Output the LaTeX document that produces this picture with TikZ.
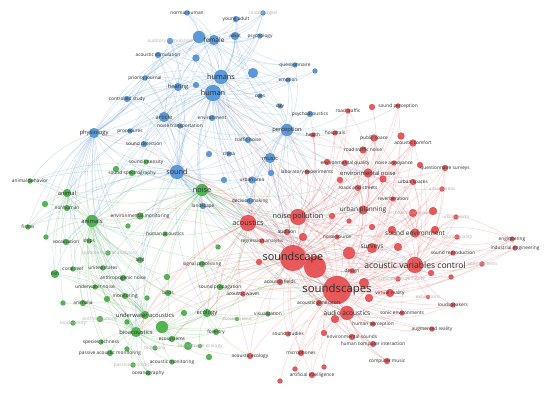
\documentclass[tikz,border=0pt]{standalone}
\usepackage{fontspec}
\usepackage{tikz}
\usetikzlibrary{backgrounds}
\newfontfamily\vosfont{Open Sans}
\definecolor{vblue}{HTML}{4A8FD6}
\definecolor{vgreen}{HTML}{3FAE3F}
\definecolor{vred}{HTML}{E5484A}
\definecolor{ink}{HTML}{2B2B2B}
\definecolor{faint}{HTML}{B4B4B4}
\tikzset{
  dot/.style={circle, inner sep=0pt, fill=#1, draw=#1!80!black,
    line width=0.15pt, fill opacity=0.9, draw opacity=0.6},
  bluekw/.style={dot=vblue},
  greenkw/.style={dot=vgreen},
  redkw/.style={dot=vred},
  sz/.style={minimum size={2*#1pt}},
  lbl/.style={inner sep=0pt, text=ink, font=\vosfont\fontsize{#1}{#1}\selectfont},
  kwxs/.style={label={[lbl=4.8]center:#1}},
  kwfaint/.style={label={[lbl=4.8, text=faint]center:#1}},
  kws/.style={label={[lbl=5.8]center:#1}},
  kwm/.style={label={[lbl=6.5]center:#1}},
  kwl/.style={label={[lbl=7.3]center:#1}},
  kwxl/.style={label={[lbl=8.6]center:#1}},
  kwxxl/.style={label={[lbl=10.8]center:#1}},
  kwhuge/.style={label={[lbl=11.4]center:#1}},
  bluelink/.style={draw=vblue!75, line width=0.4pt, draw opacity=0.38},
  greenlink/.style={draw=vgreen!75, line width=0.4pt, draw opacity=0.38},
  redlink/.style={draw=vred!80, line width=0.4pt, draw opacity=0.32},
}

\begin{document}
\begin{tikzpicture}[x=1pt, y=-1pt]
  \useasboundingbox (0,0) rectangle (550,395);

  % blue cluster
  \node[bluekw, sz=2.5, kwxs=normal human] (normalhuman) at (187,13) {};
  \node[bluekw, sz=3, kwxs=young adult] (youngadult) at (236,19) {};
  \node[bluekw, sz=2.5, kwfaint=middle aged] (middleaged) at (263,13) {};
  \node[bluekw, sz=3, kwfaint=auditory stimulation] (auditorystim) at (170,41) {};
  \node[bluekw, sz=6] (bu1) at (199,37) {};
  \node[bluekw, sz=5, kwm=female] (female) at (214,40) {};
  \node[bluekw, sz=4, kwxs=adult] (adult) at (235,36) {};
  \node[bluekw, sz=2.5, kwxs=psychology] (psychology) at (260,36) {};
  \node[bluekw, sz=3, kwxs=acoustic stimulation] (acousticstim) at (158,55) {};
  \node[bluekw, sz=3.5] (bu2) at (196,58) {};
  \node[bluekw, sz=2.5, kwxs=questionnaire] (questionnaire) at (295,65) {};
  \node[bluekw, sz=2.5] (bu8) at (315,71) {};
  \node[bluekw, sz=5] (bu3) at (253,73) {};
  \node[bluekw, sz=7, kwl=humans] (humans) at (221,77) {};
  \node[bluekw, sz=2.5, kwxs=priority journal] (priority) at (145,78) {};
  \node[bluekw, sz=4, kws=hearing] (hearing) at (178,87) {};
  \node[bluekw, sz=3] (bu4) at (196,85) {};
  \node[bluekw, sz=2.5, kwxs=emotion] (emotion) at (288,80) {};
  \node[bluekw, sz=8, kwl=human] (human) at (213,93) {};
  \node[bluekw, sz=2.5, kwxs=cues] (cues) at (260,96) {};
  \node[bluekw, sz=3, kwxs=controlled study] (controlled) at (127,99) {};
  \node[bluekw, sz=2.5, kwxs=day] (day) at (280,106) {};
  \node[bluekw, sz=5, kws=article] (article) at (164,117) {};
  \node[bluekw, sz=3, kwxs=environment] (environment) at (212,118) {};
  \node[bluekw, sz=2.5, kwxs=noise transportation] (noisetrans) at (180,126) {};
  \node[bluekw, sz=5, kws=physiology] (physiology) at (94,133) {};
  \node[bluekw, sz=2.5, kwxs=procedures] (procedures) at (130,131) {};
  \node[bluekw, sz=3, kwxs=traffic noise] (trafficnoise) at (248,140) {};
  \node[bluekw, sz=3, kwxs=psychoacoustics] (psychoac) at (310,114) {};
  \node[bluekw, sz=6, kws=perception] (perception) at (287,130) {};
  \node[bluekw, sz=3, kwxs=sound detection] (sounddetect) at (144,144) {};
  \node[bluekw, sz=3] (bu5) at (209,154) {};
  \node[bluekw, sz=2.5, kwxs=china] (china) at (229,154) {};
  \node[bluekw, sz=7, kwl=sound] (sound) at (177,172) {};
  \node[bluekw, sz=5, kws=music] (music) at (270,158) {};
  \node[bluekw, sz=3] (bu7) at (271,173) {};
  \node[bluekw, sz=3] (bu6) at (224,180) {};
  \node[bluekw, sz=3.5, kwxs=urban area] (urbanarea) at (252,180) {};
  \node[bluekw, sz=3, kwxs=landscape] (landscape) at (203,206) {};
  \node[bluekw, sz=3, kwxs=decision making] (decision) at (250,201) {};

  % green cluster
  \node[greenkw, sz=2.5, kwxs=animal behavior] (animalbehavior) at (30,181) {};
  \node[greenkw, sz=4, kws=animal] (animal) at (67,193) {};
  \node[greenkw, sz=3] (gu1) at (45,204) {};
  \node[greenkw, sz=3, kwxs=nonhuman] (nonhuman) at (67,208) {};
  \node[greenkw, sz=6, kws=animals] (animals) at (92,221) {};
  \node[greenkw, sz=3.5, kwxs=environmental monitoring] (envmonitor) at (140,216) {};
  \node[greenkw, sz=2.5] (gu3) at (128,226) {};
  \node[greenkw, sz=2.5, kwxs=fishes] (fishes) at (28,227) {};
  \node[greenkw, sz=2.5, kwxs=human acoustics] (humanacoustics) at (165,234) {};
  \node[greenkw, sz=2.5] (gu2) at (46,237) {};
  \node[greenkw, sz=3, kwxs=vocalization] (vocalization) at (66,242) {};
  \node[greenkw, sz=2.5, kwxs=ships] (ships) at (89,241) {};
  \node[greenkw, sz=2.5, kwfaint=spatiotemporal analysis] (spatiotemp) at (108,253) {};
  \node[greenkw, sz=3, kwxs=bird] (bird) at (140,260) {};
  \node[greenkw, sz=4, kwxs=fish] (fish) at (55,274) {};
  \node[greenkw, sz=2.5, kwxs=coral reef] (coralreef) at (73,269) {};
  \node[greenkw, sz=2.5, kwxs=united states] (unitedstates) at (103,268) {};
  \node[greenkw, sz=3, kwxs=anthropogenic noise] (anthropogenic) at (123,278) {};
  \node[greenkw, sz=3] (gu4) at (167,277) {};
  \node[greenkw, sz=2.5, kwxs=sound intensity] (soundintensity) at (146,162) {};
  \node[greenkw, sz=3] (gu15) at (116,169) {};
  \node[greenkw, sz=3, kwxs=sound spectrography] (soundspectro) at (132,173) {};
  \node[greenkw, sz=6, kwl=noise] (noise) at (202,190) {};
  \node[greenkw, sz=2.5] (gu5) at (218,247) {};
  \node[greenkw, sz=3, kwxs=signal processing] (signalproc) at (202,264) {};
  \node[greenkw, sz=3, kwxs=sound propagation] (soundprop) at (220,287) {};
  \node[greenkw, sz=3, kwxs=birds] (birds) at (168,293) {};
  \node[greenkw, sz=2.5, kwxs=underwater noise] (underwaternoise) at (95,287) {};
  \node[greenkw, sz=3, kwxs=monitoring] (monitoring) at (125,296) {};
  \node[greenkw, sz=3] (gu6) at (107,299) {};
  \node[greenkw, sz=2.5] (gu7) at (147,298) {};
  \node[greenkw, sz=2.5] (gu8) at (63,303) {};
  \node[greenkw, sz=3, kwxs=animalia] (animalia) at (83,303) {};
  \node[greenkw, sz=4, kws=underwater acoustics] (underwateracoustics) at (145,315) {};
  \node[greenkw, sz=3] (gu9) at (184,313) {};
  \node[greenkw, sz=4, kws=ecology] (ecology) at (207,313) {};
  \node[greenkw, sz=2.5, kwxs=visualization] (visualization) at (268,314) {};
  \node[greenkw, sz=2, kwfaint=acoustic data] (acousticdata) at (237,319) {};
  \node[greenkw, sz=3, kwfaint=anthropophony] (anthropophony) at (100,319) {};
  \node[greenkw, sz=2.5, kwfaint=biodiversity] (biodiversity) at (73,323) {};
  \node[greenkw, sz=2.5] (gu11) at (127,322) {};
  \node[greenkw, sz=6] (gu10) at (162,327) {};
  \node[greenkw, sz=5, kws=bioacoustics] (bioacoustics) at (136,332) {};
  \node[greenkw, sz=3, kwxs=forestry] (forestry) at (216,332) {};
  \node[greenkw, sz=2.5, kwxs=species richness] (speciesrichness) at (101,342) {};
  \node[greenkw, sz=3, kwxs=ecosystems] (ecosystems) at (172,339) {};
  \node[greenkw, sz=4] (gu13) at (188,346) {};
  \node[greenkw, sz=2, kwfaint=soundscape ecology] (soundscapeecology) at (200,346) {};
  \node[greenkw, sz=2.5] (gu12) at (127,349) {};
  \node[greenkw, sz=2.5, kwfaint=biophony] (biophony) at (155,348) {};
  \node[greenkw, sz=3, kwxs=passive acoustic monitoring] (pam) at (110,353) {};
  \node[greenkw, sz=3] (gu14) at (209,357) {};
  \node[greenkw, sz=2.5, kwxs=acoustic monitoring] (acousticmonitoring) at (172,362) {};
  \node[greenkw, sz=2.5, kwfaint=passive acoustics] (passiveacoustics) at (133,365) {};
  \node[greenkw, sz=2.5, kwxs=oceanography] (oceanography) at (148,373) {};

  % red cluster
  \node[redkw, sz=2.5, kwxs=road traffic] (roadtraffic) at (348,111) {};
  \node[redkw, sz=3] (ru3) at (372,107) {};
  \node[redkw, sz=2.5, kwxs=sound perception] (soundperception) at (398,106) {};
  \node[redkw, sz=2.5, kwxs=health] (health) at (313,135) {};
  \node[redkw, sz=2.5, kwxs=hospitals] (hospitals) at (335,133) {};
  \node[redkw, sz=3.5, kwxs=public space] (publicspace) at (374,138) {};
  \node[redkw, sz=3.5] (ru4) at (401,136) {};
  \node[redkw, sz=3.5, kwxs=acoustic comfort] (acousticcomfort) at (413,143) {};
  \node[redkw, sz=3.5, kwxs=road traffic noise] (roadtrafficnoise) at (363,150) {};
  \node[redkw, sz=3] (ru6) at (327,162) {};
  \node[redkw, sz=3, kwxs=environmental quality] (envquality) at (345,163) {};
  \node[redkw, sz=2.5, kwxs=noise annoyance] (noiseannoyance) at (394,163) {};
  \node[redkw, sz=3] (ru5) at (420,165) {};
  \node[redkw, sz=3, kwxs=questionnaire surveys] (questionnairesurveys) at (445,168) {};
  \node[redkw, sz=2.5, kwxs=laboratory experiments] (labexp) at (307,172) {};
  \node[redkw, sz=4.5, kws=environmental noise] (envnoise) at (368,173) {};
  \node[redkw, sz=3] (ru25) at (340,180) {};
  \node[redkw, sz=3.5] (ru7) at (383,179) {};
  \node[redkw, sz=3, kwxs=urban spaces] (urbanspaces) at (413,182) {};
  \node[redkw, sz=3, kwxs=roads and streets] (roadsstreets) at (358,188) {};
  \node[redkw, sz=2.5, kwfaint=urban areas] (urbanareas) at (442,189) {};
  \node[redkw, sz=2.5, kwxs=reverberation] (reverberation) at (393,199) {};
  \node[redkw, sz=4.5, kwm=urban planning] (urbanplanning) at (363,210) {};
  \node[redkw, sz=4, kwfaint=architectural acoustics] (archacoustics) at (413,213) {};
  \node[redkw, sz=4] (ru8) at (433,211) {};
  \node[redkw, sz=2.5, kwfaint=urban parks] (urbanparks) at (456,217) {};
  \node[redkw, sz=3] (ru22) at (332,216) {};
  \node[redkw, sz=2.5] (ru23) at (349,221) {};
  \node[redkw, sz=3] (ru24) at (372,227) {};
  \node[redkw, sz=8, kwl=noise pollution] (noisepollution) at (298,217) {};
  \node[redkw, sz=8, kwl=acoustics] (acoustics) at (248,223) {};
  \node[redkw, sz=3, kwxs=audition] (audition) at (287,232) {};
  \node[redkw, sz=4] (ru21) at (303,237) {};
  \node[redkw, sz=2.5, kwxs=noise source] (noisesource) at (337,237) {};
  \node[redkw, sz=2.5, kwxs=regression analysis] (regression) at (262,241) {};
  \node[redkw, sz=4] (ru9) at (392,230) {};
  \node[redkw, sz=4] (ru10) at (435,230) {};
  \node[redkw, sz=4.5, kwm=sound environment] (soundenv) at (415,233) {};
  \node[redkw, sz=2.5, kwfaint=sound quality] (soundquality) at (457,237) {};
  \node[redkw, sz=2.5, kwxs=engineering] (engineering) at (512,239) {};
  \node[redkw, sz=2.5, kwxs=industrial engineering] (industrialeng) at (515,248) {};
  \node[redkw, sz=6] (ru2) at (349,253) {};
  \node[redkw, sz=4] (ru11) at (398,247) {};
  \node[redkw, sz=5, kwm=surveys] (surveys) at (372,248) {};
  \node[redkw, sz=3] (ru20) at (259,262) {};
  \node[redkw, sz=11] (ru1) at (315,267) {};
  \node[redkw, sz=13, kwxxl=soundscape] (soundscape) at (293,258) {};
  \node[redkw, sz=2.5, kwxs=sound reproduction] (soundrepro) at (453,253) {};
  \node[redkw, sz=8, kwxl=acoustic variables control] (avc) at (415,265) {};
  \node[redkw, sz=2.5, kwfaint=listening tests] (listening) at (482,264) {};
  \node[redkw, sz=3] (ru12) at (431,273) {};
  \node[redkw, sz=2.5] (ru13) at (451,277) {};
  \node[redkw, sz=2.5, kwxs=design] (design) at (352,271) {};
  \node[redkw, sz=2.5, kwfaint=acoustic measurements] (acousticmeas) at (398,279) {};
  \node[redkw, sz=5] (ru14) at (364,283) {};
  \node[redkw, sz=3, kwxs=acoustic fields] (acousticfields) at (280,282) {};
  \node[redkw, sz=4] (ru15) at (369,298) {};
  \node[redkw, sz=14, kwhuge=soundscapes] (soundscapes) at (337,290) {};
  \node[redkw, sz=4, kwxs=virtual reality] (virtualreality) at (390,293) {};
  \node[redkw, sz=2, kwfaint=exhibitions] (exhibitions) at (428,297) {};
  \node[redkw, sz=2.5, kwxs=loudspeakers] (loudspeakers) at (453,305) {};
  \node[redkw, sz=2.5, kwxs=acoustic waves] (acousticwaves) at (243,294) {};
  \node[redkw, sz=3, kwxs=acoustic generators] (acousticgen) at (319,303) {};
  \node[redkw, sz=4] (ru16) at (335,319) {};
  \node[redkw, sz=7, kwm=audio acoustics] (audioacoustics) at (347,313) {};
  \node[redkw, sz=2.5, kwxs=sonic environments] (sonicenv) at (402,313) {};
  \node[redkw, sz=2.5, kwxs=human perception] (humanperception) at (373,324) {};
  \node[redkw, sz=2.5, kwxs=augmented reality] (augmented) at (432,329) {};
  \node[redkw, sz=3] (ru17) at (324,333) {};
  \node[redkw, sz=2.5, kwxs=sound studies] (soundstudies) at (288,334) {};
  \node[redkw, sz=3, kwxs=environmental sounds] (envsounds) at (352,337) {};
  \node[redkw, sz=3, kwxs=human computer interaction] (hci) at (373,344) {};
  \node[redkw, sz=3, kwxs=acoustic ecology] (acousticecology) at (250,356) {};
  \node[redkw, sz=3, kwxs=microphones] (microphones) at (301,353) {};
  \node[redkw, sz=3, kwxs=computer music] (computermusic) at (387,361) {};
  \node[redkw, sz=2.5] (ru18) at (295,369) {};
  \node[redkw, sz=2.5] (ru19) at (324,367) {};
  \node[redkw, sz=3, kwxs=artificial intelligence] (ai) at (312,375) {};
  \node[redkw, sz=2.5] (ru26) at (280,381) {};

  \begin{scope}[on background layer]
    \fill[white] (0,0) rectangle (550,395);
    % blue links
    \foreach \dst in {normalhuman, youngadult, middleaged, auditorystim, female, adult, psychology, acousticstim, questionnaire, humans, priority, hearing, emotion, cues, controlled, day, article, environment, noisetrans, physiology, procedures, trafficnoise, psychoac, perception, sounddetect, china, sound, music, urbanarea, landscape, decision, bu1, bu2, bu3, bu4, bu5, bu8, animals, noise, animal, soundintensity, soundspectro, noisepollution, acoustics, envnoise, roadtrafficnoise, health, labexp, soundscape, soundscapes, urbanplanning, surveys, avc, bioacoustics}
      \draw[bluelink] (human) to[bend right=16] (\dst);
    \foreach \dst in {normalhuman, youngadult, middleaged, auditorystim, female, adult, psychology, acousticstim, questionnaire, priority, hearing, emotion, cues, controlled, day, article, physiology, procedures, perception, sound, music, bu1, bu2, bu3, bu4, bu8, animals, noise, soundscape, acoustics, noisepollution, envnoise}
      \draw[bluelink] (humans) to[bend right=16] (\dst);
    \foreach \dst in {normalhuman, youngadult, middleaged, adult, psychology, acousticstim, questionnaire, priority, hearing, controlled, article, physiology, perception, sound, emotion, bu1, bu3}
      \draw[bluelink] (female) to[bend right=16] (\dst);
    \foreach \dst in {normalhuman, youngadult, middleaged, adult, psychology, priority, hearing, controlled, article, physiology, questionnaire}
      \draw[bluelink] (bu1) to[bend right=16] (\dst);
    \foreach \dst in {youngadult, middleaged, psychology, questionnaire, emotion, perception, cues, day}
      \draw[bluelink] (adult) to[bend right=16] (\dst);
    \foreach \dst in {physiology, article, hearing, priority, controlled, procedures, sounddetect, acousticstim, auditorystim, perception, music, china, urbanarea, landscape, decision, noisetrans, environment, soundintensity, soundspectro, animals, animal, noise, nonhuman, vocalization, bird, acoustics, noisepollution, soundscape, soundscapes, audition, bu5, bu6, bu7, bioacoustics, underwateracoustics, ecology, avc, audioacoustics, fishes, animalbehavior}
      \draw[bluelink] (sound) to[bend right=16] (\dst);
    \foreach \dst in {article, priority, controlled, procedures, sounddetect, hearing, acousticstim, auditorystim, soundintensity, soundspectro, animal, animals, nonhuman, animalbehavior, fishes, vocalization, fish, noise, bioacoustics, underwateracoustics, birds, bird, unitedstates, coralreef, gu8, monitoring, animalia, gu1, gu2}
      \draw[bluelink] (physiology) to[bend right=16] (\dst);
    \foreach \dst in {priority, controlled, procedures, environment, noisetrans, sounddetect, hearing, acousticstim, perception, noise, china, trafficnoise, animals, animal, soundscape}
      \draw[bluelink] (article) to[bend right=16] (\dst);
    \foreach \dst in {psychoac, emotion, cues, day, questionnaire, music, trafficnoise, urbanarea, health, hospitals, roadtraffic, labexp, envnoise, soundperception, noisepollution, soundscape, soundscapes, acoustics, bu3, bu7, decision, urbanplanning, avc}
      \draw[bluelink] (perception) to[bend right=16] (\dst);
    \foreach \dst in {priority, controlled, acousticstim, auditorystim, procedures, sounddetect, bu2, bu4, physiology}
      \draw[bluelink] (hearing) to[bend right=16] (\dst);
    \foreach \dst in {soundscape, acoustics, emotion, psychoac, urbanarea, bu7, soundscapes, audioacoustics}
      \draw[bluelink] (music) to[bend right=16] (\dst);
    % green links
    \foreach \dst in {animalbehavior, animal, nonhuman, fishes, vocalization, ships, spatiotemp, bird, fish, coralreef, unitedstates, anthropogenic, envmonitor, humanacoustics, soundintensity, soundspectro, noise, underwaternoise, monitoring, animalia, underwateracoustics, bioacoustics, birds, ecology, gu1, gu2, gu3, gu4, soundscape, acoustics, pam, speciesrichness, oceanography, gu6, gu10}
      \draw[greenlink] (animals) to[bend right=16] (\dst);
    \foreach \dst in {animalbehavior, nonhuman, fishes, vocalization, fish, gu1, gu2, soundspectro, noise, bird, bioacoustics, underwateracoustics}
      \draw[greenlink] (animal) to[bend right=16] (\dst);
    \foreach \dst in {landscape, envmonitor, humanacoustics, signalproc, soundprop, bird, anthropogenic, unitedstates, ecology, birds, underwateracoustics, bioacoustics, soundspectro, soundintensity, gu3, gu4, gu5, acoustics, noisepollution, soundscape, soundscapes, urbanarea, decision, avc, surveys, urbanplanning, soundenv, audioacoustics, envnoise, animalbehavior, fishes}
      \draw[greenlink] (noise) to[bend right=16] (\dst);
    \foreach \dst in {underwateracoustics, monitoring, animalia, underwaternoise, birds, speciesrichness, pam, ecosystems, biophony, acousticmonitoring, passiveacoustics, oceanography, anthropophony, biodiversity, soundscapeecology, forestry, ecology, fish, coralreef, bird, gu6, gu7, gu8, gu9, gu10, gu11, gu12, gu13}
      \draw[greenlink] (bioacoustics) to[bend right=16] (\dst);
    \foreach \dst in {ecology, forestry, ecosystems, soundscapeecology, birds, acousticmonitoring, visualization, soundprop, soundscapes, soundscape, acousticecology, gu14}
      \draw[greenlink] (gu10) to[bend right=16] (\dst);
    \foreach \dst in {forestry, visualization, acousticdata, soundprop, birds, soundscapeecology, ecosystems, acousticecology, soundscapes, soundscape, acoustics, signalproc}
      \draw[greenlink] (ecology) to[bend right=16] (\dst);
    \foreach \dst in {underwaternoise, monitoring, animalia, fish, ships, oceanography, pam, anthropogenic, coralreef}
      \draw[greenlink] (underwateracoustics) to[bend right=16] (\dst);
    \foreach \dst in {soundscape, acoustics, soundscapes, soundprop}
      \draw[greenlink] (signalproc) to[bend right=16] (\dst);
    \foreach \dst in {acoustics, soundscapes, acousticwaves, acousticfields}
      \draw[greenlink] (soundprop) to[bend right=16] (\dst);
    % red links
    \foreach \dst in {roadtraffic, soundperception, health, hospitals, publicspace, acousticcomfort, roadtrafficnoise, envquality, noiseannoyance, questionnairesurveys, labexp, envnoise, urbanspaces, roadsstreets, urbanareas, reverberation, archacoustics, urbanparks, urbanplanning, noisepollution, acoustics, audition, noisesource, regression, soundenv, soundquality, engineering, surveys, soundrepro, avc, listening, design, acousticmeas, acousticfields, soundscapes, virtualreality, exhibitions, loudspeakers, acousticwaves, acousticgen, audioacoustics, sonicenv, humanperception, augmented, soundstudies, envsounds, hci, acousticecology, microphones, computermusic, ai, perception, music, human, humans, sound, noise, physiology, article, ecology, bioacoustics, animals, landscape, decision, urbanarea, trafficnoise, psychoac, signalproc, soundprop, forestry, visualization, ru1, ru2, ru14, birds, underwateracoustics, ecosystems, gu10, monitoring}
      \draw[redlink] (soundscape) to[bend right=16] (\dst);
    \foreach \dst in {audioacoustics, acousticgen, avc, virtualreality, surveys, soundenv, design, acousticmeas, sonicenv, humanperception, augmented, soundstudies, envsounds, hci, acousticecology, microphones, computermusic, ai, loudspeakers, exhibitions, listening, soundrepro, engineering, industrialeng, soundquality, urbanplanning, noisepollution, acoustics, acousticfields, acousticwaves, regression, audition, noisesource, envnoise, archacoustics, urbanparks, reverberation, ru4, ru9, ru10, ru11, ru12, ru13, ru14, ru15, ru16, ru17, ru18, ru19, ru26, ecology, visualization, soundprop, bioacoustics, noise, sound, ru1, ru2, human, perception}
      \draw[redlink] (soundscapes) to[bend right=16] (\dst);
    \foreach \dst in {noisepollution, audition, regression, noisesource, acousticfields, acousticwaves, urbanplanning, surveys, avc, audioacoustics, envnoise, labexp, decision, landscape, noise, sound, perception, music, trafficnoise, urbanarea, human, animals, bioacoustics, signalproc, soundprop, ru20, ru21, ru1, soundscapes, ecology, birds, underwateracoustics, forestry, acousticecology}
      \draw[redlink] (acoustics) to[bend right=16] (\dst);
    \foreach \dst in {urbanplanning, envnoise, roadtrafficnoise, roadsstreets, envquality, noiseannoyance, health, hospitals, roadtraffic, publicspace, acousticcomfort, labexp, surveys, soundenv, avc, audition, noisesource, ru22, ru23, ru24, ru6, ru8, ru25, urbanspaces, ru1}
      \draw[redlink] (noisepollution) to[bend right=16] (\dst);
    \foreach \dst in {soundenv, surveys, soundrepro, listening, design, acousticmeas, virtualreality, exhibitions, loudspeakers, audioacoustics, sonicenv, engineering, industrialeng, soundquality, urbanparks, archacoustics, urbanplanning, reverberation, ru10, ru11, ru12, ru13, ru9, ru5, questionnairesurveys, urbanspaces, urbanareas, ru1, ru14}
      \draw[redlink] (avc) to[bend right=16] (\dst);
    \foreach \dst in {surveys, soundenv, urbanplanning, envnoise, avc, design, acousticmeas, virtualreality, ru13, roadsstreets, ru1}
      \draw[redlink] (ru2) to[bend right=16] (\dst);
    \foreach \dst in {acousticgen, sonicenv, humanperception, augmented, envsounds, hci, computermusic, microphones, ai, soundstudies, virtualreality, loudspeakers, ru16, ru17, ru18, ru19, ru1}
      \draw[redlink] (audioacoustics) to[bend right=16] (\dst);
    \foreach \dst in {urbanplanning, archacoustics, urbanparks, reverberation, urbanspaces, soundquality, acousticcomfort, questionnairesurveys, publicspace, envnoise, engineering, industrialeng, soundrepro, ru6, ru7, ru8}
      \draw[redlink] (soundenv) to[bend right=16] (\dst);
    \foreach \dst in {envnoise, roadsstreets, urbanspaces, publicspace, acousticcomfort, envquality, noiseannoyance, roadtrafficnoise, reverberation, hospitals, ru7, ru6}
      \draw[redlink] (urbanplanning) to[bend right=16] (\dst);
    \foreach \dst in {roadtrafficnoise, envquality, noiseannoyance, publicspace, acousticcomfort, soundperception, roadtraffic, health, hospitals, questionnairesurveys, urbanspaces, urbanareas, ru3, ru4, ru5}
      \draw[redlink] (envnoise) to[bend right=16] (\dst);
    \foreach \dst in {questionnairesurveys, publicspace, acousticcomfort, soundperception, noiseannoyance, urbanareas, urbanspaces}
      \draw[redlink] (surveys) to[bend right=16] (\dst);
    \foreach \dst in {industrialeng, archacoustics, soundenv}
      \draw[redlink] (engineering) to[bend right=16] (\dst);
  \end{scope}
\end{tikzpicture}
\end{document}
